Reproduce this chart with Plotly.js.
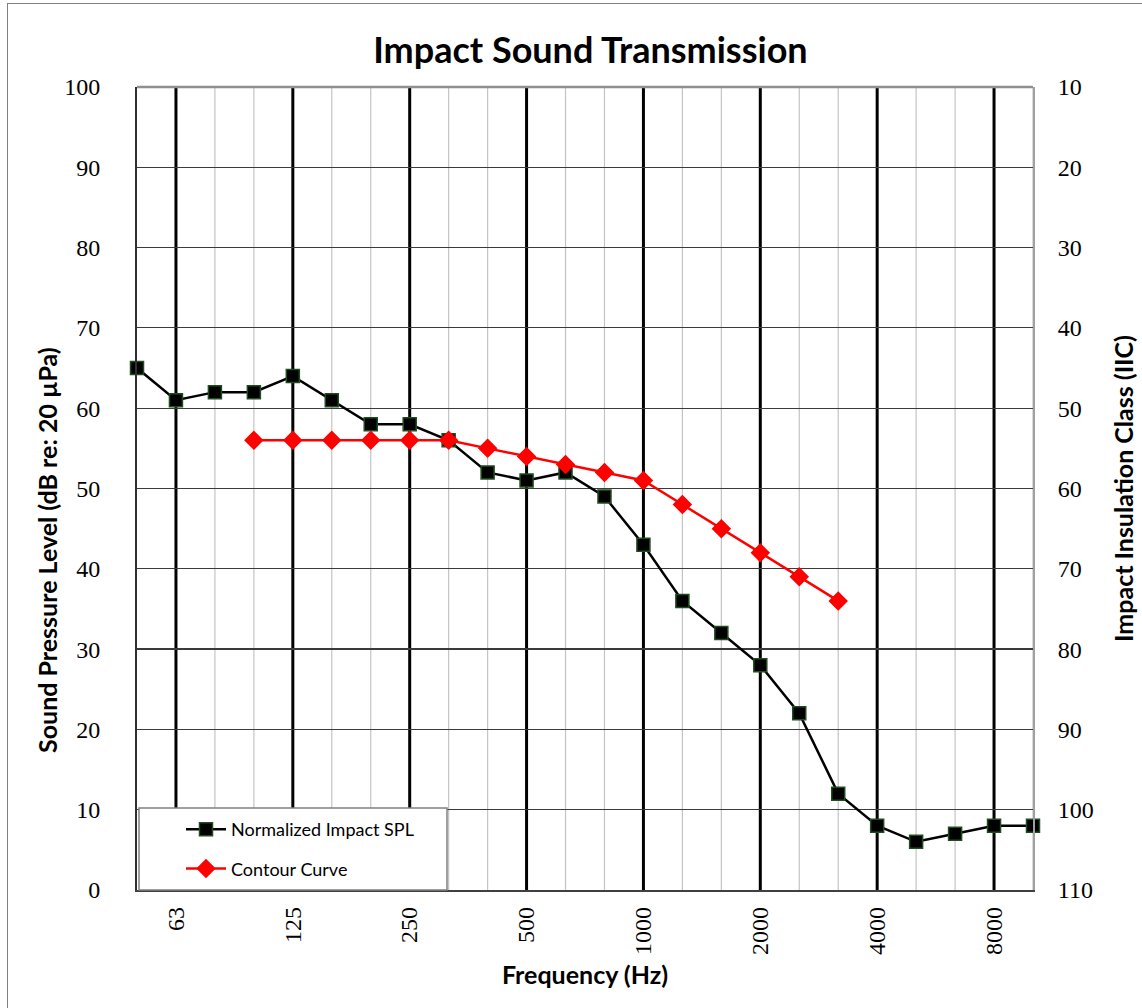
<!DOCTYPE html>
<html>
<head>
<meta charset="utf-8">
<script src="https://cdn.plot.ly/plotly-3.0.1.min.js"></script>
<style>
html,body{margin:0;padding:0;background:#fff;}
#wrap{position:relative;width:1142px;height:1008px;}
#chart{width:1142px;height:1008px;}
#frame{position:absolute;left:7px;top:3px;width:1140px;height:1010px;border:1.5px solid #808080;pointer-events:none;box-sizing:border-box;}
</style>
</head>
<body>
<div id="wrap"><div id="chart"></div><div id="frame"></div></div>
<script>
// Data
const frequencies = ['50','63','80','100','125','160','200','250','315','400','500','630','800','1000','1250','1600','2000','2500','3150','4000','5000','6300','8000','10000'];
const octaveBands = ['63','125','250','500','1000','2000','4000','8000'];
const normalizedImpactSPL = [65,61,62,62,64,61,58,58,56,52,51,52,49,43,36,32,28,22,12,8,6,7,8,8];
const contourCurve = [null,null,null,56,56,56,56,56,56,55,54,53,52,51,48,45,42,39,36,null,null,null,null,null];
const leftTicks = [0,10,20,30,40,50,60,70,80,90,100];
const rightTicks = [10,20,30,40,50,60,70,80,90,100,110];

const tickText = frequencies.map(f => octaveBands.includes(f) ? f : '');
const titleFont = 'Lato, "Open Sans", sans-serif';
const serif = '"Liberation Serif", "Times New Roman", serif';

const traces = [
  {
    x: frequencies, y: normalizedImpactSPL, type: 'scatter', mode: 'lines+markers',
    name: 'Normalized Impact SPL', legendgroup: 'a', cliponaxis: false,
    line: {color: '#000000', width: 2.5},
    marker: {symbol: 'square', size: 13, color: '#000000', line: {color: '#1f4d1f', width: 1.5}}
  },
  {
    x: frequencies, y: contourCurve, type: 'scatter', mode: 'lines+markers',
    name: 'Contour Curve', legendgroup: 'b', cliponaxis: false,
    line: {color: '#ff0000', width: 2.5},
    marker: {symbol: 'diamond', size: 15, color: '#ff0000'}
  }
];

const L = 137, R = 1033, T = 87, B = 890;
const shapes = [];
// vertical grid: light grey for 1/3-octave bands, heavy black for octave bands
frequencies.forEach((f, i) => {
  if (i === 0) return;
  const oct = octaveBands.includes(f);
  shapes.push({
    type: 'line', xref: 'x', yref: 'paper', x0: i, x1: i, y0: 0, y1: 1,
    line: {color: oct ? '#000000' : '#c4c4c4', width: oct ? 3 : 1.2}, layer: 'between'
  });
});
// top border of plot area
shapes.push({type: 'line', xref: 'paper', yref: 'paper', x0: 0, x1: 1, y0: 1, y1: 1,
  line: {color: '#909090', width: 2.5}, layer: 'between'});
// legend box
shapes.push({
  type: 'rect', xref: 'paper', yref: 'paper',
  x0: (139 - L) / (R - L), x1: (447 - L) / (R - L),
  y0: 0, y1: (B - 808) / (B - T),
  fillcolor: '#ffffff', line: {color: '#808080', width: 1.5}, layer: 'above'
});

const layout = {
  width: 1142, height: 1008,
  margin: {l: L, r: 1142 - R, t: T, b: 1008 - B, pad: 0},
  paper_bgcolor: '#ffffff', plot_bgcolor: '#ffffff',
  showlegend: true,
  title: {text: '<b>Impact Sound Transmission</b>', x: 0.517, xanchor: 'center', y: 0.95, yanchor: 'middle',
    font: {family: titleFont, size: 36, color: '#000'}},
  xaxis: {
    type: 'category', categoryorder: 'array', categoryarray: frequencies,
    range: [0, frequencies.length - 1],
    tickmode: 'array', tickvals: frequencies, ticktext: tickText,
    tickangle: -90, ticks: '', ticklabelstandoff: 6,
    tickfont: {family: serif, size: 24, color: '#000'},
    showgrid: false,
    showline: true, linecolor: '#404040', linewidth: 1.5, mirror: false,
    zeroline: false,
    title: {text: '<b>Frequency (Hz)</b>', standoff: 12, font: {family: titleFont, size: 25, color: '#000'}}
  },
  yaxis: {
    range: [0, 100], tickmode: 'array', tickvals: leftTicks,
    ticks: '', ticklabelstandoff: 30,
    tickfont: {family: serif, size: 24, color: '#000'},
    showgrid: true, gridcolor: '#3a3a3a', gridwidth: 1.2,
    showline: true, linecolor: '#303030', linewidth: 2, zeroline: false
  },
  yaxis2: {
    overlaying: 'y', side: 'right', range: [110, 10], tickmode: 'array', tickvals: rightTicks,
    ticks: '', ticklabelstandoff: 18,
    tickfont: {family: serif, size: 24, color: '#000'},
    showgrid: false, showline: true, linecolor: '#a0a0a0', linewidth: 2, zeroline: false,
    title: {text: '<b>Impact Insulation Class (IIC)</b>', standoff: 23, font: {family: titleFont, size: 25, color: '#000'}}
  },
  annotations: [{
    text: '<b>Sound Pressure Level (dB re: 20 µPa)</b>', textangle: -90,
    xref: 'paper', yref: 'paper', x: (47 - L) / (R - L), y: (B - 550) / (B - T),
    xanchor: 'center', yanchor: 'middle', showarrow: false,
    font: {family: titleFont, size: 25, color: '#000'}
  }],
  shapes: shapes,
  legend: {
    x: (181 - L) / (R - L), xanchor: 'left', y: (B - 811) / (B - T), yanchor: 'top',
    bgcolor: 'rgba(0,0,0,0)', borderwidth: 0, traceorder: 'grouped', tracegroupgap: 13,
    font: {family: titleFont, size: 18, color: '#000'},
    itemwidth: 40
  }
};

// invisible trace to bind yaxis2
traces.push({x: [frequencies[0]], y: [null], yaxis: 'y2', type: 'scatter', mode: 'lines', showlegend: false, hoverinfo: 'skip'});

Plotly.newPlot('chart', traces, layout, {displayModeBar: false, staticPlot: true});
</script>
</body>
</html>
